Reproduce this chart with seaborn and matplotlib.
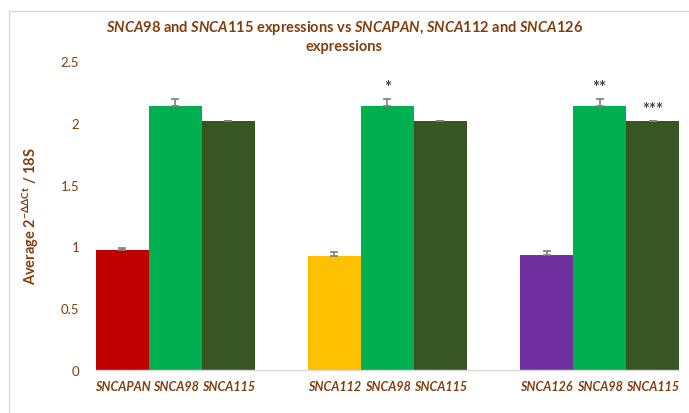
import matplotlib
matplotlib.use("Agg")
import matplotlib.pyplot as plt
from matplotlib.lines import Line2D
import numpy as np
import pandas as pd
import seaborn as sns

# Data: three comparison groups, three bars each
groups = ["PAN", "112", "126"]
bar_labels = ["SNCAPAN", "SNCA98", "SNCA115",
              "SNCA112", "SNCA98", "SNCA115",
              "SNCA126", "SNCA98", "SNCA115"]
values = [0.97, 2.133, 2.012,
          0.92, 2.133, 2.012,
          0.93, 2.133, 2.012]
errors = [0.015, 0.06, 0.005,
          0.035, 0.06, 0.005,
          0.03, 0.06, 0.005]
stars = ["", "", "",
         "", "*", "",
         "", "**", "***"]
colors = ["#C00000", "#00B050", "#375623",
          "#FFC000", "#00B050", "#375623",
          "#7030A0", "#00B050", "#375623"]
y_ticks = [0, 0.5, 1, 1.5, 2, 2.5]

brown = "#843C0C"

sns.set_theme(style="white")
plt.rcParams["font.family"] = ["Lato", "DejaVu Sans"]
plt.rcParams["mathtext.fontset"] = "custom"
plt.rcParams["mathtext.rm"] = "Lato:bold"
plt.rcParams["mathtext.it"] = "Lato:italic:bold"
plt.rcParams["mathtext.bf"] = "Lato:bold"

# bar positions: 3 bars per group, one empty slot between groups
pos = [g * 4 + b for g in range(len(groups)) for b in range(3)]
df = pd.DataFrame({"pos": pos, "value": values, "label": bar_labels})

fig = plt.figure(figsize=(6.89, 4.14), dpi=100)
ax = fig.add_axes([0.1393, 0.1039, 0.8462, 0.7463])

sns.barplot(data=df, x="pos", y="value", hue="pos",
            palette=dict(zip(pos, colors)), native_scale=True,
            width=1.0, legend=False, ax=ax, saturation=1,
            linewidth=0)

ax.errorbar(pos, values, yerr=[np.zeros(len(errors)), errors],
            fmt="none", ecolor="#7F7F7F", elinewidth=1.2, capsize=3,
            capthick=1.2, zorder=5)

for x, v, e, s in zip(pos, values, errors, stars):
    if s:
        ax.text(x, v + e + 0.03, s, ha="center", va="bottom",
                fontsize=12, fontweight="bold", color="#404040")

ax.set_xlim(-0.5, 10.5)
ax.set_ylim(0, 2.5)
ax.set_xticks(pos)
ax.set_xticklabels(bar_labels, fontstyle="italic", fontweight="bold",
                   color=brown, fontsize=9)
ax.set_yticks(y_ticks)
ax.set_yticklabels([f"{t:g}" for t in y_ticks], color=brown, fontsize=9.5)
ax.tick_params(axis="both", length=0)
ax.tick_params(axis="y", pad=12)
ax.tick_params(axis="x", pad=7)
ax.set_xlabel("")
ax.set_ylabel(r"Average 2$^{\mathrm{-\Delta\Delta Ct}}$ / 18S",
              color=brown, fontsize=10.5, fontweight="bold", labelpad=14)

for side in ["left", "top", "right"]:
    ax.spines[side].set_visible(False)
ax.spines["bottom"].set_color("#D9D9D9")
ax.spines["bottom"].set_linewidth(1)

fig.text(0.5, 0.955,
         r"$SNCA98$ and $SNCA115$ expressions vs $SNCAPAN$, $SNCA112$ and $SNCA126$"
         "\nexpressions",
         ha="center", va="top", color=brown, fontsize=10.5,
         fontweight="bold", linespacing=1.3)

# chart area frame
fig.add_artist(Line2D([9 / 689, 9 / 689], [0, 1 - 12 / 414],
                      color="#D9D9D9", lw=1, transform=fig.transFigure))
fig.add_artist(Line2D([9 / 689, 1], [1 - 12 / 414, 1 - 12 / 414],
                      color="#D9D9D9", lw=1, transform=fig.transFigure))

fig.savefig("out.png", dpi=100)
